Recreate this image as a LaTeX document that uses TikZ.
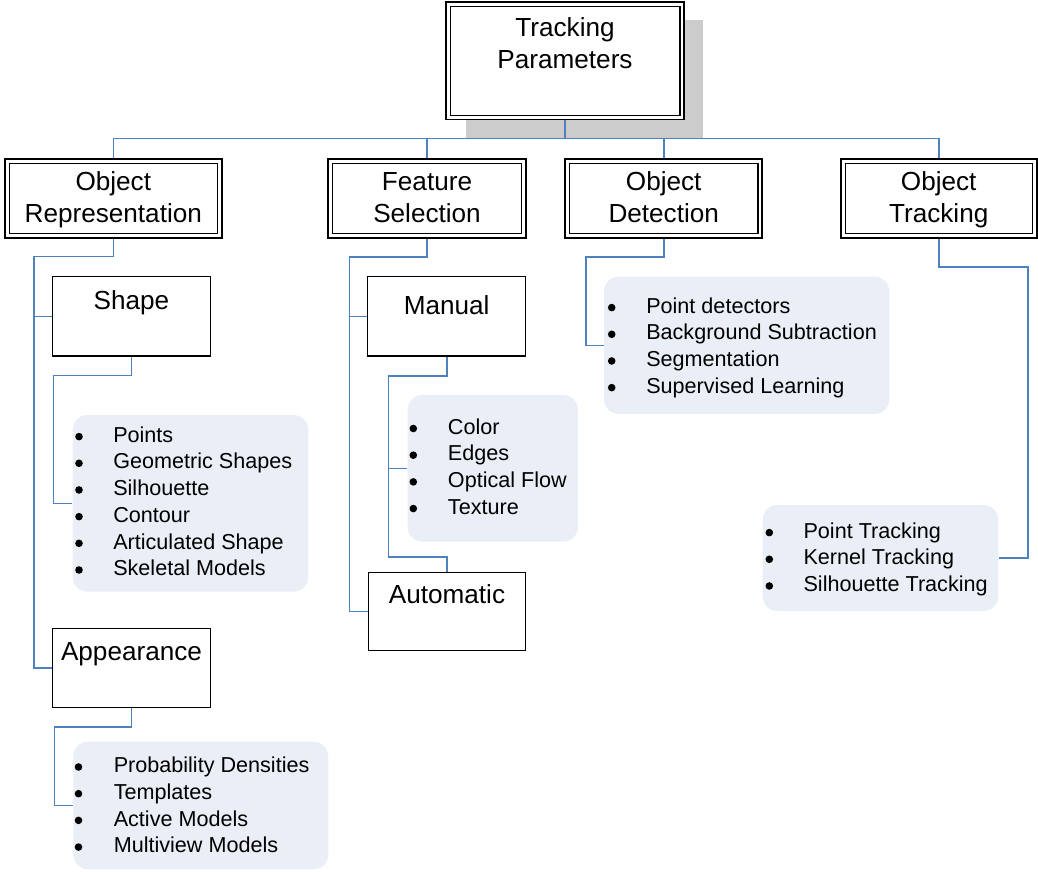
\documentclass[tikz,border=0pt]{standalone}
\usepackage{fontspec}
\setmainfont{Liberation Sans}
\definecolor{connblue}{RGB}{79,129,189}
\definecolor{listfill}{RGB}{234,239,247}
\definecolor{shadowgray}{RGB}{204,204,204}
\newcommand\pu[1]{#1*0.75pt}
\begin{document}
\begin{tikzpicture}[x=0.75pt,y=-0.75pt,
  conn/.style={draw=connblue,line width=1.2pt},
  dbox/.style={draw=black,fill=white,line width=1.4pt,inner sep=0pt,
    path picture={\draw[line width=0.9pt]
      ([shift={(3.3pt,-3.3pt)}]path picture bounding box.north west) rectangle
      ([shift={(-3.3pt,3.3pt)}]path picture bounding box.south east);}},
  sbox/.style={draw=black,fill=white,line width=1.1pt,inner sep=0pt},
  listbox/.style={fill=listfill,rounded corners=11pt,inner sep=0pt},
  btext/.style={font=\fontsize{19.6pt}{23.6pt}\selectfont,inner sep=0pt,anchor=base},
  ltext/.style={font=\fontsize{16.2pt}{20pt}\selectfont,inner sep=0pt,anchor=base west},
  bul/.style={circle,fill=black,inner sep=0pt,minimum size=\pu{7.6}}]
\useasboundingbox (0,0) rectangle (1038,871);

% shadow of the root box
\fill[shadowgray] (466,20) rectangle (703.3,138.5);

% root
\node[dbox,minimum width=\pu{238.6},minimum height=\pu{117.8}] (tp) at (565,60.6) {};
\node[btext] (tpa) at (565,36.5) {Tracking};
\node[btext] (tpb) at (565,68) {Parameters};

% level 2
\node[dbox,minimum width=\pu{216.7},minimum height=\pu{79}] (orep) at (113.3,198.5) {};
\node[btext] (orepa) at (113.3,190.5) {Object};
\node[btext] (orepb) at (113.3,222) {Representation};
\node[dbox,minimum width=\pu{197.4},minimum height=\pu{79}] (fs) at (427,198.5) {};
\node[btext] (fsa) at (427,190.5) {Feature};
\node[btext] (fsb) at (427,222) {Selection};
\node[dbox,minimum width=\pu{197.3},minimum height=\pu{79}] (od) at (663.7,198.5) {};
\node[btext] (oda) at (663.7,190.5) {Object};
\node[btext] (odb) at (663.7,222) {Detection};
\node[dbox,minimum width=\pu{196},minimum height=\pu{79}] (ot) at (938.7,198.5) {};
\node[btext] (ota) at (938.7,190.5) {Object};
\node[btext] (otb) at (938.7,222) {Tracking};

% level 3
\node[sbox,minimum width=\pu{158.4},minimum height=\pu{79.3}] (shape) at (131.5,316.3) {};
\node[btext] (shapet) at (131.5,309) {Shape};
\node[sbox,minimum width=\pu{158.4},minimum height=\pu{79}] (app) at (131.5,667.8) {};
\node[btext] (appt) at (131.5,660) {Appearance};
\node[sbox,minimum width=\pu{158},minimum height=\pu{79.3}] (manual) at (446.7,316.3) {};
\node[btext] (manualt) at (446.7,314) {Manual};
\node[sbox,minimum width=\pu{157.4},minimum height=\pu{78.4}] (auto) at (447,611.5) {};
\node[btext] (autot) at (447,603) {Automatic};

% lists
\node[listbox,minimum width=\pu{235.6},minimum height=\pu{176.7}] (slist) at (190.5,503.3) {};
\foreach \t [count=\i from 0] in {Points,Geometric Shapes,Silhouette,Contour,Articulated Shape,Skeletal Models}{
  \node[bul] (slb\i) at (79,436.6+26.68*\i) {};
  \node[ltext] (slt\i) at (113,442.3+26.68*\i) {\t};
}
\node[listbox,minimum width=\pu{255},minimum height=\pu{127.6}] (alist) at (200.8,805.5) {};
\foreach \t [count=\i from 0] in {Probability Densities,Templates,Active Models,Multiview Models}{
  \node[bul] (alb\i) at (78.5,767+26.68*\i) {};
  \node[ltext] (alt\i) at (113.5,772.7+26.68*\i) {\t};
}
\node[listbox,minimum width=\pu{170.3},minimum height=\pu{146.7}] (mlist) at (492.8,468.3) {};
\foreach \t [count=\i from 0] in {Color,Edges,Optical Flow,Texture}{
  \node[bul] (mlb\i) at (413.3,428.5+26.68*\i) {};
  \node[ltext] (mlt\i) at (447.7,434.2+26.68*\i) {\t};
}
\node[listbox,minimum width=\pu{285.3},minimum height=\pu{137.3}] (dlist) at (746.7,345.3) {};
\foreach \t [count=\i from 0] in {Point detectors,Background Subtraction,Segmentation,Supervised Learning}{
  \node[bul] (dlb\i) at (611.7,307.6+26.68*\i) {};
  \node[ltext] (dlt\i) at (646,313.3+26.68*\i) {\t};
}
\node[listbox,minimum width=\pu{235.6},minimum height=\pu{106}] (tlist) at (880.5,558) {};
\foreach \t [count=\i from 0] in {Point Tracking,Kernel Tracking,Silhouette Tracking}{
  \node[bul] (tlb\i) at (769.3,532.6+26.68*\i) {};
  \node[ltext] (tlt\i) at (803.3,538.3+26.68*\i) {\t};
}

% connectors
\coordinate (bus) at (565,138.5);
\draw[conn] (tp.south) -- (bus);
\draw[conn] (orep.north) |- (bus) -| (ot.north);
\draw[conn] (fs.north) -- (fs.north |- bus);
\draw[conn] (od.north) -- (od.north |- bus);

\coordinate (j1) at (33.7,256.5);
\draw[conn] (orep.south) |- (j1) |- (app.west);
\draw[conn] (j1 |- shape.west) -- (shape.west);
\coordinate (j2) at (53.3,375.3);
\draw[conn] (shape.south) |- (j2) |- (slist.west);
\coordinate (j3) at (54.3,726.7);
\draw[conn] (app.south) |- (j3) |- (alist.west);

\coordinate (j4) at (349.3,256.7);
\draw[conn] (fs.south) |- (j4) |- (auto.west);
\draw[conn] (j4 |- manual.west) -- (manual.west);
\coordinate (j5) at (388.3,376);
\coordinate (j6) at (388.3,557);
\draw[conn] (manual.south) |- (j5) -- (j6) -| (auto.north);
\draw[conn] (j5 |- mlist.west) -- (mlist.west);

\coordinate (j7) at (586,257);
\draw[conn] (od.south) |- (j7) |- (dlist.west);
\coordinate (j8) at (1027.7,266.7);
\draw[conn] (ot.south) |- (j8) |- (tlist.east);
\end{tikzpicture}
\end{document}
